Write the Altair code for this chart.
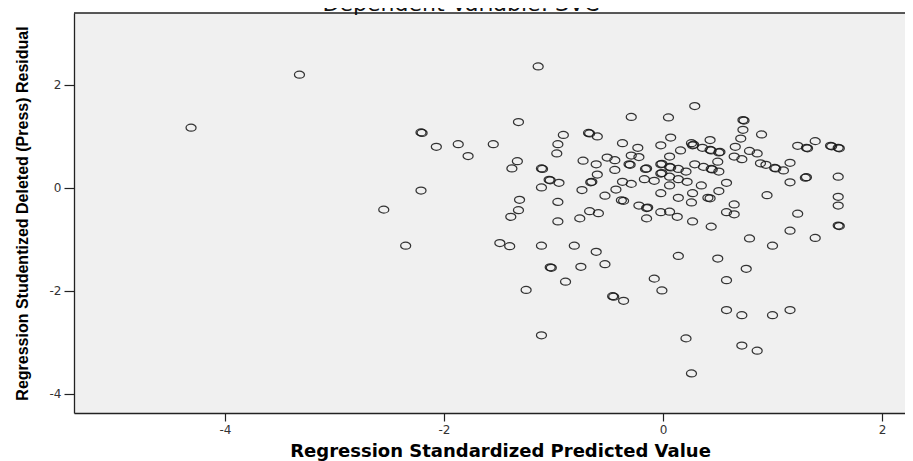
import altair as alt
import pandas as pd

# Regression Standardized Predicted Value (x) and Studentized Deleted (Press) Residual (y)
predicted = [
    -4.31, -3.32, -2.21, -2.20, -2.07, -1.87, -2.21, -2.55, -2.35, -1.14,
    -1.55, -1.78, -1.32, -0.29, 0.05, 0.29, 0.73, 0.74, 0.73, 0.71,
    0.90, -0.91, -0.96, -0.97, -0.68, -0.67, -0.60, -1.33, -1.38, -1.11,
    -1.10, -1.03, -1.04, -0.95, -1.11, -1.31, -1.32, -1.39, -0.96, -0.96,
    -0.73, -0.61, -0.74, -0.66, -0.65, -0.60, -0.53, -0.44, -0.43, -0.51,
    -0.44, -0.67, -0.59, -0.76, -0.37, -0.23, -0.29, -0.22, -0.31, -0.30,
    -0.37, -0.29, -0.16, -0.15, -0.17, -0.08, -0.38, -0.36, -0.22, -0.15,
    -0.14, -0.15, -0.02, 0.07, 0.16, 0.06, -0.02, -0.01, 0.06, 0.07,
    0.14, -0.02, -0.01, 0.06, 0.14, 0.21, 0.22, 0.06, -0.02, 0.14,
    0.06, -0.02, 0.13, 0.26, 0.27, 0.27, 0.26, 0.27, 0.28, 0.36,
    0.43, 0.43, 0.44, 0.51, 0.52, 0.29, 0.37, 0.44, 0.45, 0.50,
    0.51, 0.35, 0.58, 0.51, 0.41, 0.43, 0.65, 0.58, 0.65, 0.44,
    0.66, 0.79, 0.86, 0.65, 0.72, 0.89, 0.94, 1.02, 1.03, 1.10,
    1.16, 1.16, 1.31, 1.30, 0.95, 1.23, 1.23, 1.31, 1.32, 1.39,
    1.53, 1.54, 1.60, 1.61, 1.60, 1.60, 1.60, 1.60, 1.61, 1.16,
    -1.49, -1.40, -1.11, -0.81, -0.61, -1.03, -1.02, -0.75, -0.53, -0.89,
    -1.25, -1.11, -0.46, -0.45, -0.36, -0.08, -0.01, 0.14, 0.50, 0.58,
    0.76, 0.79, 1.00, 1.39, 0.58, 0.72, 1.00, 1.16, 0.21, 0.72,
    0.86, 0.26,
]
residual = [
    1.17, 2.20, 1.08, 1.07, 0.80, 0.85, -0.05, -0.42, -1.12, 2.36,
    0.85, 0.62, 1.28, 1.38, 1.37, 1.59, 1.32, 1.31, 1.13, 0.96,
    1.04, 1.03, 0.85, 0.67, 1.07, 1.06, 1.00, 0.52, 0.38, 0.38,
    0.37, 0.15, 0.16, 0.10, 0.01, -0.23, -0.43, -0.56, -0.27, -0.65,
    0.53, 0.46, -0.04, 0.11, 0.12, 0.26, -0.15, 0.35, -0.03, 0.59,
    0.54, -0.45, -0.49, -0.59, 0.87, 0.78, 0.63, 0.60, 0.46, 0.45,
    0.12, 0.08, 0.37, 0.38, 0.17, 0.14, -0.24, -0.25, -0.34, -0.39,
    -0.38, -0.59, 0.83, 0.98, 0.73, 0.61, 0.46, 0.47, 0.41, 0.40,
    0.37, 0.28, 0.29, 0.22, 0.17, 0.32, 0.12, 0.05, -0.10, -0.19,
    -0.46, -0.47, -0.56, -0.28, -0.10, -0.65, 0.87, 0.83, 0.84, 0.78,
    0.93, 0.74, 0.73, 0.69, 0.70, 0.46, 0.41, 0.37, 0.36, 0.51,
    0.32, 0.05, 0.10, -0.06, -0.19, -0.20, -0.32, -0.47, -0.51, -0.75,
    0.80, 0.72, 0.67, 0.61, 0.56, 0.48, 0.45, 0.39, 0.38, 0.34,
    0.49, 0.11, 0.21, 0.20, -0.14, -0.50, 0.82, 0.78, 0.77, 0.91,
    0.82, 0.81, 0.78, 0.77, 0.22, -0.17, -0.34, -0.73, -0.74, -0.83,
    -1.07, -1.13, -1.12, -1.12, -1.24, -1.54, -1.55, -1.53, -1.48, -1.82,
    -1.98, -2.86, -2.10, -2.11, -2.19, -1.76, -1.99, -1.32, -1.37, -1.79,
    -1.57, -0.98, -1.12, -0.97, -2.37, -2.47, -2.47, -2.37, -2.92, -3.06,
    -3.16, -3.60,
]
x_ticks = [-4, -2, 0, 2]
y_ticks = [-4, -2, 0, 2]
chart_title = ["Dependent Variable: SVC"]
x_title = "Regression Standardized Predicted Value"
y_title = "Regression Studentized Deleted (Press) Residual"

W, H = 831, 400
ELLIPSE = ("M-1,0C-1,-0.387,-0.552,-0.7,0,-0.7C0.552,-0.7,1,-0.387,1,0"
           "C1,0.387,0.552,0.7,0,0.7C-0.552,0.7,-1,0.387,-1,0Z")

df = pd.DataFrame({"pred": predicted, "resid": residual})

points = alt.Chart(df).mark_point(
    shape=ELLIPSE, filled=False, size=100, color="#1a1a1a",
    strokeWidth=1.25, opacity=0.88
).encode(
    x=alt.X("pred:Q",
            scale=alt.Scale(domain=[-5.379, 2.210], nice=False, zero=False),
            axis=alt.Axis(values=x_ticks, title=x_title,
                          labelExpr="datum.value + ''",
                          tickSize=8, labelPadding=3,
                          titleFont="DejaVu Sans", titleFontSize=18,
                          titleFontWeight="bold",
                          titleX=426, titleY=43.5, titleBaseline="alphabetic",
                          titleAlign="center")),
    y=alt.Y("resid:Q",
            scale=alt.Scale(domain=[-4.369, 3.398], nice=False, zero=False),
            axis=alt.Axis(values=y_ticks, title=y_title,
                          labelExpr="datum.value + ''",
                          tickSize=10, labelPadding=3,
                          titleFont="Liberation Sans",
                          titleFontSize=16, titleFontWeight="bold",
                          titleX=-47, titleY=200, titleAngle=270,
                          titleBaseline="alphabetic", titleAlign="center")),
)

top_border = alt.Chart(pd.DataFrame({"k": [0]})).mark_rule(
    color="#222", strokeWidth=1.3
).encode(x=alt.value(0), x2=alt.value(W), y=alt.value(0))

title = alt.Chart(pd.DataFrame({"t": chart_title})).mark_text(
    font="DejaVu Sans", fontSize=22, baseline="alphabetic", align="center",
    color="#111"
).encode(text="t:N", x=alt.value(387), y=alt.value(-2))

chart = alt.layer(points, top_border, title).properties(
    width=W, height=H,
    autosize=alt.AutoSizeParams(type="none"),
    padding={"left": 66, "top": 5, "right": 0, "bottom": 48},
).configure_view(
    fill="#f0f0f0", stroke=None
).configure_axis(
    grid=False, domainColor="#222", domainWidth=1.3,
    tickColor="#222", tickWidth=1.2,
    labelFont="DejaVu Sans", labelFontSize=12, labelColor="#333",
    titleColor="#000"
)

chart.save("out.html", embed_options={"renderer": "svg", "actions": False})
